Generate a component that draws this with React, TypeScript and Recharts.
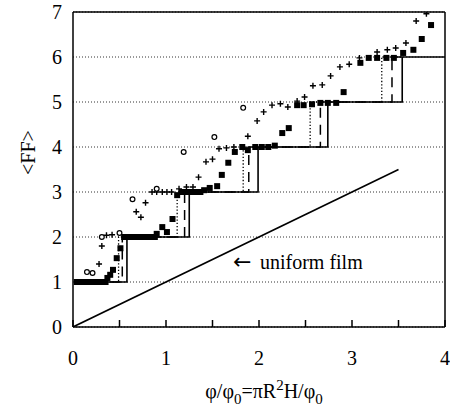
import { ComposedChart, Line, Scatter, XAxis, YAxis, CartesianGrid, ReferenceLine, ReferenceDot } from 'recharts'

const xTicks = [0, 0.5, 1, 1.5, 2, 2.5, 3, 3.5, 4]
const yTicks = [0, 1, 2, 3, 4, 5, 6, 7]

// filled squares
const squares = [
  { x: 0.04, y: 1 }, { x: 0.08, y: 1 }, { x: 0.12, y: 1 }, { x: 0.16, y: 1 }, { x: 0.2, y: 1 },
  { x: 0.24, y: 1 }, { x: 0.28, y: 1 }, { x: 0.32, y: 1 }, { x: 0.35, y: 1 },
  { x: 0.37, y: 1.09 }, { x: 0.4, y: 1.16 }, { x: 0.43, y: 1.27 }, { x: 0.47, y: 1.53 }, { x: 0.51, y: 1.75 },
  { x: 0.55, y: 2 }, { x: 0.6, y: 2 }, { x: 0.64, y: 2 }, { x: 0.68, y: 2 }, { x: 0.72, y: 2 },
  { x: 0.76, y: 2 }, { x: 0.8, y: 2 }, { x: 0.84, y: 2 }, { x: 0.88, y: 2 },
  { x: 0.9, y: 2.07 }, { x: 0.96, y: 2.22 }, { x: 1.01, y: 2.11 }, { x: 1.07, y: 2.4 }, { x: 1.12, y: 2.93 },
  { x: 1.17, y: 3 }, { x: 1.21, y: 3 }, { x: 1.25, y: 3 }, { x: 1.29, y: 3 }, { x: 1.33, y: 3 }, { x: 1.37, y: 3 },
  { x: 1.41, y: 3.04 }, { x: 1.47, y: 3.09 }, { x: 1.55, y: 3.13 }, { x: 1.6, y: 3.38 }, { x: 1.67, y: 3.65 },
  { x: 1.74, y: 3.89 }, { x: 1.82, y: 4 }, { x: 1.88, y: 3.93 },
  { x: 1.96, y: 4 }, { x: 2.03, y: 4 }, { x: 2.1, y: 4 }, { x: 2.17, y: 4.03 },
  { x: 2.25, y: 4.31 }, { x: 2.32, y: 4.42 }, { x: 2.41, y: 4.93 }, { x: 2.48, y: 4.93 }, { x: 2.57, y: 4.95 },
  { x: 2.66, y: 4.98 }, { x: 2.74, y: 4.98 }, { x: 2.83, y: 4.98 }, { x: 2.91, y: 5.22 },
  { x: 3.09, y: 5.87 }, { x: 3.18, y: 5.98 }, { x: 3.27, y: 5.98 }, { x: 3.37, y: 5.98 }, { x: 3.45, y: 5.98 },
  { x: 3.55, y: 6.09 }, { x: 3.66, y: 6.16 }, { x: 3.75, y: 6.4 }, { x: 3.85, y: 6.71 },
]

// plus signs
const pluses = [
  { x: 0.28, y: 1.4 }, { x: 0.31, y: 1.8 }, { x: 0.36, y: 2.04 }, { x: 0.42, y: 2.05 },
  { x: 0.68, y: 2.56 }, { x: 0.73, y: 2.44 }, { x: 0.78, y: 2.76 },
  { x: 0.85, y: 3 }, { x: 0.9, y: 3 }, { x: 0.96, y: 3 }, { x: 1.01, y: 3 }, { x: 1.06, y: 3 },
  { x: 1.14, y: 3.07 }, { x: 1.22, y: 3.11 }, { x: 1.29, y: 3.11 }, { x: 1.35, y: 3.33 },
  { x: 1.43, y: 3.67 }, { x: 1.5, y: 3.73 }, { x: 1.57, y: 3.96 }, { x: 1.65, y: 3.98 }, { x: 1.73, y: 4 },
  { x: 1.88, y: 4.24 }, { x: 1.98, y: 4.58 }, { x: 2.05, y: 4.78 }, { x: 2.14, y: 4.93 }, { x: 2.23, y: 4.96 },
  { x: 2.31, y: 4.89 }, { x: 2.41, y: 5.02 }, { x: 2.49, y: 5.11 }, { x: 2.58, y: 5.36 }, { x: 2.68, y: 5.38 },
  { x: 2.77, y: 5.58 }, { x: 2.87, y: 5.78 }, { x: 2.97, y: 5.84 }, { x: 3.08, y: 5.98 },
  { x: 3.27, y: 6.11 }, { x: 3.38, y: 6.16 }, { x: 3.47, y: 6.2 }, { x: 3.58, y: 6.31 },
  { x: 3.69, y: 6.8 }, { x: 3.8, y: 6.96 },
]

// open circles
const circles = [
  { x: 0.15, y: 1.22 }, { x: 0.21, y: 1.2 }, { x: 0.31, y: 2 }, { x: 0.5, y: 2.09 }, { x: 0.64, y: 2.84 },
  { x: 0.9, y: 3.07 }, { x: 1.19, y: 3.89 }, { x: 1.52, y: 4.22 }, { x: 1.83, y: 4.87 },
]

// staircases (stepAfter)
const solidStep = [
  { x: 0.04, y: 1 }, { x: 0.58, y: 2 }, { x: 1.25, y: 3 }, { x: 1.99, y: 4 }, { x: 2.74, y: 5 }, { x: 3.54, y: 6 }, { x: 4, y: 6 },
]
const dashedStep = [
  { x: 0.04, y: 1 }, { x: 0.53, y: 2 }, { x: 1.2, y: 3 }, { x: 1.89, y: 4 }, { x: 2.66, y: 5 }, { x: 3.43, y: 6 }, { x: 3.54, y: 6 },
]
const dottedStep = [
  { x: 0.04, y: 1 }, { x: 0.49, y: 2 }, { x: 1.12, y: 3 }, { x: 1.83, y: 4 }, { x: 2.55, y: 5 }, { x: 3.32, y: 6 }, { x: 3.54, y: 6 },
]

const uniformFilm = [{ x: 0, y: 0 }, { x: 3.5, y: 3.5 }]

const FONT = '"Liberation Serif", "DejaVu Serif", serif'

const Square = ({ cx, cy }: any) => <rect x={cx - 3} y={cy - 3} width={6} height={6} fill="#000" />
const Plus = ({ cx, cy }: any) => (
  <path d={`M${cx - 3},${cy}H${cx + 3}M${cx},${cy - 3}V${cy + 3}`} stroke="#000" strokeWidth={1.4} />
)
const Ring = ({ cx, cy }: any) => <circle cx={cx} cy={cy} r={2.4} fill="#fff" stroke="#000" strokeWidth={1.2} />

const XTick = ({ x, y, payload }: any) => (
  <g>
    <line x1={x} x2={x} y1={y} y2={y - 7} stroke="#000" strokeWidth={1.5} />
    {Number.isInteger(payload.value) && (
      <text x={x} y={y + 38} textAnchor="middle" fontFamily={FONT} fontSize={20} fill="#000">{payload.value}</text>
    )}
  </g>
)

const XTitle = ({ viewBox }: any) => {
  const cx = viewBox.x + viewBox.width / 2 + 5
  return (
    <text x={cx} y={398} textAnchor="middle" fontFamily={FONT} fontSize={20} fill="#000">
      φ/φ<tspan dy={6} fontSize={15}>0</tspan>
      <tspan dy={-6}>=πR</tspan>
      <tspan dy={-8} fontSize={15}>2</tspan>
      <tspan dy={8}>H/φ</tspan>
      <tspan dy={6} fontSize={15}>0</tspan>
    </text>
  )
}

const YTitle = ({ viewBox }: any) => {
  const cx = 28
  const cy = viewBox.y + viewBox.height / 2 - 17
  return (
    <text x={cx} y={cy} transform={`rotate(-90 ${cx} ${cy})`} textAnchor="middle" dominantBaseline="central"
      fontFamily={FONT} fontSize={20} fill="#000">{'<FF>'}</text>
  )
}

const FilmNote = ({ viewBox }: any) => (
  <text x={viewBox.x} y={viewBox.y + 6} fontFamily={FONT} fontSize={20} fill="#000">
    <tspan fontFamily="DejaVu Sans" fontSize={22}>←</tspan>
    <tspan x={viewBox.x + 27}>uniform film</tspan>
  </text>
)

export default function App() {
  return (
    <div style={{ position: 'absolute', left: 0, top: 0, background: '#fff' }}>
      <ComposedChart width={450} height={412} margin={{ top: 12, right: 5, bottom: 0, left: 0 }}>
        <CartesianGrid vertical={false} stroke="#333" strokeDasharray="1 2" />
        <XAxis type="number" dataKey="x" domain={[0, 4]} ticks={xTicks} interval={0} height={85}
          axisLine={{ stroke: '#000', strokeWidth: 1.5 }} tickLine={false} tickSize={0} tickMargin={0}
          tick={<XTick />} label={<XTitle />} allowDataOverflow />
        <YAxis type="number" dataKey="y" domain={[0, 7]} ticks={yTicks} interval={0} width={73}
          axisLine={{ stroke: '#000', strokeWidth: 1.5 }} tickLine={false} tickMargin={5}
          tick={{ fill: '#000', fontSize: 20, fontFamily: FONT }} label={<YTitle />} allowDataOverflow />
        <ReferenceLine y={7} stroke="#000" strokeWidth={1.5} />
        <ReferenceLine x={4} stroke="#000" strokeWidth={1.5} />
        <Line data={uniformFilm} dataKey="y" type="linear" stroke="#000" strokeWidth={1.6} dot={false} activeDot={false} isAnimationActive={false} />
        <Line data={dottedStep} dataKey="y" type="stepAfter" stroke="#000" strokeWidth={1.3} strokeDasharray="1.3 2" dot={false} activeDot={false} isAnimationActive={false} />
        <Line data={dashedStep} dataKey="y" type="stepAfter" stroke="#000" strokeWidth={1.5} strokeDasharray="10 7" dot={false} activeDot={false} isAnimationActive={false} />
        <Line data={solidStep} dataKey="y" type="stepAfter" stroke="#000" strokeWidth={1.6} dot={false} activeDot={false} isAnimationActive={false} />
        <Scatter data={squares} dataKey="y" shape={<Square />} isAnimationActive={false} />
        <Scatter data={pluses} dataKey="y" shape={<Plus />} isAnimationActive={false} />
        <Scatter data={circles} dataKey="y" shape={<Ring />} isAnimationActive={false} />
        <ReferenceDot x={1.72} y={1.42} r={0} label={<FilmNote />} />
      </ComposedChart>
    </div>
  )
}
